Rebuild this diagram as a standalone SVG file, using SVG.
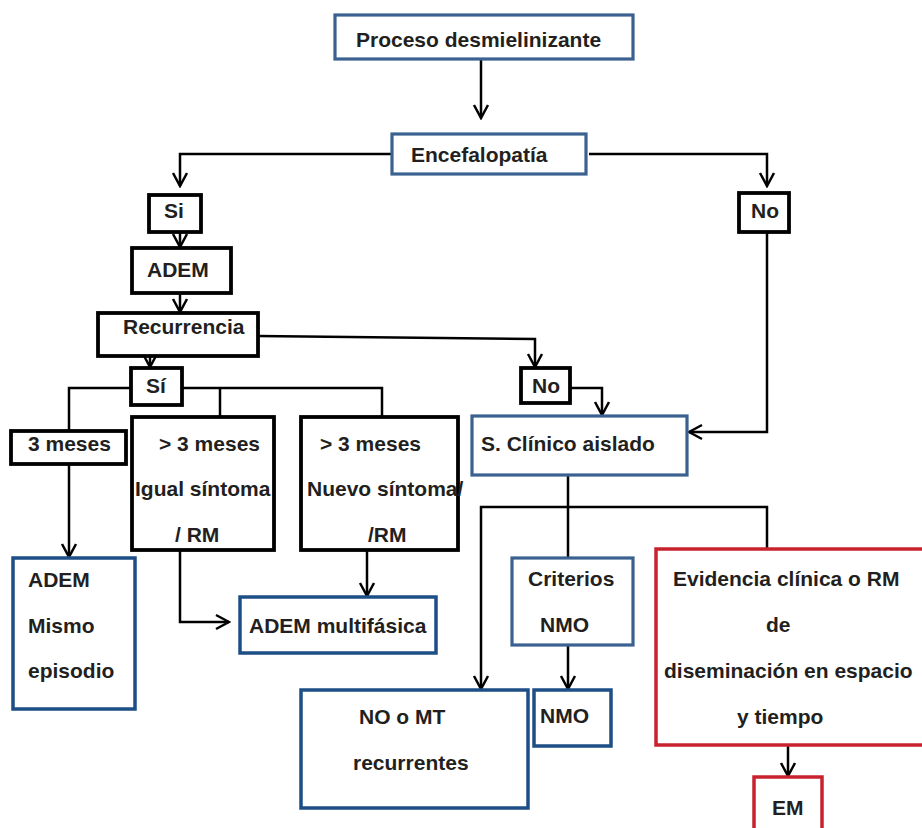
<svg xmlns="http://www.w3.org/2000/svg" width="922" height="828" viewBox="0 0 922 828">
<defs>
<style>
text{font-family:"Liberation Sans",Arial,sans-serif;font-weight:bold;font-size:21px;fill:#231f20}
.blue{fill:#fff;stroke:#3a6190;stroke-width:3.2}
.dblue{fill:#fff;stroke:#1d4f86;stroke-width:3.5}
.blk{fill:#fff;stroke:#000;stroke-width:3.8}
.red{fill:#fff;stroke:#c8232c;stroke-width:3.5}
.con path{fill:none;stroke:#000;stroke-width:2.5}
</style>
<marker id="arr" viewBox="-15 -9 17 18" refX="0" refY="0" markerWidth="17" markerHeight="18" markerUnits="userSpaceOnUse" orient="auto">
<path d="M-13,-7 L0,0 L-13,7" fill="none" stroke="#000" stroke-width="2.5"/>
</marker>
</defs>
<rect width="922" height="828" fill="#fff"/>
<g id="connectors" class="con">
<path d="M481,59 V118" marker-end="url(#arr)"/>
<path d="M392,154 H180 V186" marker-end="url(#arr)"/>
<path d="M180,232 V247" marker-end="url(#arr)"/>
<path d="M589,154 H767 V186" marker-end="url(#arr)"/>
<path d="M767,232 V432 H689" marker-end="url(#arr)"/>
<path d="M180,293 V312" marker-end="url(#arr)"/>
<path d="M258,336 L535,339 V367" marker-end="url(#arr)"/>
<path d="M570,388 H602 V415" marker-end="url(#arr)"/>
<path d="M150,356 V367" marker-end="url(#arr)"/>
<path d="M131,388 H69 V431"/>
<path d="M182,388 H382 V417"/>
<path d="M220,388 V417"/>
<path d="M69,464 V557" marker-end="url(#arr)"/>
<path d="M180,550 V622 H229" marker-end="url(#arr)"/>
<path d="M367,550 V596" marker-end="url(#arr)"/>
<path d="M568,475 V558"/>
<path d="M767,548 V507 H481 V689" marker-end="url(#arr)"/>
<path d="M568,645 V689" marker-end="url(#arr)"/>
<path d="M788,745 V776" marker-end="url(#arr)"/>
</g>
<g id="proceso"><rect class="blue" x="335" y="15" width="298" height="44"/><text x="356" y="47">Proceso desmielinizante</text></g>
<g id="encefalopatia"><rect class="blue" x="392" y="134" width="194" height="40"/><text x="411" y="162">Encefalopatía</text></g>
<g id="si"><rect class="blk" x="149" y="195" width="52" height="37"/><text x="164" y="218">Si</text></g>
<g id="no1"><rect class="blk" x="739" y="193" width="50" height="39"/><text x="751" y="218">No</text></g>
<g id="adem"><rect class="blk" x="132" y="248" width="99" height="45"/><text x="147" y="277">ADEM</text></g>
<g id="recurrencia"><rect class="blk" x="98" y="313" width="160" height="43"/><text x="123" y="334">Recurrencia</text></g>
<g id="si2"><rect class="blk" x="131" y="368" width="51" height="37"/><text x="146" y="393">Sí</text></g>
<g id="no2"><rect class="blk" x="521" y="368" width="49" height="35"/><text x="532" y="393">No</text></g>
<g id="sca"><rect class="blue" x="472" y="416" width="215" height="59"/><text x="481" y="451">S. Clínico aislado</text></g>
<g id="tresmeses"><rect class="blk" x="11" y="431" width="115" height="33"/><text x="28" y="451">3 meses</text></g>
<g id="igual"><rect class="blk" x="132" y="417" width="142" height="133"/><text x="159" y="451">&gt; 3 meses</text><text x="135" y="496">Igual síntoma</text><text x="175" y="542">/ RM</text></g>
<g id="nuevo"><rect class="blk" x="301" y="417" width="157" height="133"/><text x="320" y="451">&gt; 3 meses</text><text x="307" y="496">Nuevo síntoma/</text><text x="368" y="542">/RM</text></g>
<g id="ademmismo"><rect class="dblue" x="13" y="558" width="122" height="151"/><text x="28" y="587">ADEM</text><text x="28" y="633">Mismo</text><text x="28" y="678">episodio</text></g>
<g id="ademmulti"><rect class="dblue" x="240" y="597" width="196" height="56"/><text x="249" y="633">ADEM multifásica</text></g>
<g id="criterios"><rect class="blue" x="512" y="558" width="121" height="87"/><text x="528" y="586">Criterios</text><text x="540" y="632">NMO</text></g>
<g id="nomt"><rect class="dblue" x="301" y="690" width="227" height="118"/><text x="359" y="724">NO o MT</text><text x="353" y="770">recurrentes</text></g>
<g id="nmo"><rect class="dblue" x="534" y="690" width="77" height="56"/><text x="540" y="723">NMO</text></g>
<g id="evidencia"><rect class="red" x="656" y="549" width="290" height="196"/><text x="673" y="586">Evidencia clínica o RM</text><text x="766" y="632">de</text><text x="664" y="678">diseminación en espacio</text><text x="737" y="724">y tiempo</text></g>
<g id="em"><rect class="red" x="754" y="777" width="68" height="70"/><text x="772" y="815">EM</text></g>
</svg>
